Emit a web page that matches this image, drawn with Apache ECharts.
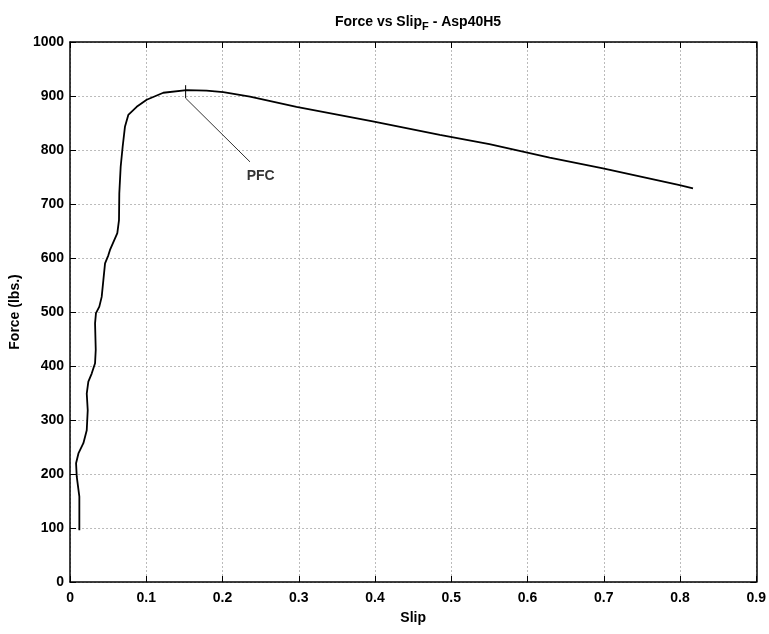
<!DOCTYPE html>
<html>
<head>
<meta charset="utf-8">
<script src="https://cdn.jsdelivr.net/npm/echarts@6/dist/echarts.min.js"></script>
<style>
html, body { margin: 0; padding: 0; background: #fff; }
#Chart { width: 769px; height: 634px; }
</style>
</head>
<body>
<div id="Chart"></div>
<script>
// slip (in) and force (lbs.)
var slip = [0.0122, 0.0122, 0.0088, 0.0079, 0.011, 0.0175, 0.0219, 0.0232, 0.0219, 0.024,
    0.0284, 0.0328, 0.0337, 0.0328, 0.034, 0.0384, 0.0415, 0.0437, 0.0459, 0.0502,
    0.0524, 0.062, 0.0642, 0.0646, 0.0664, 0.069, 0.072, 0.0764, 0.0874, 0.1005,
    0.1223, 0.153, 0.179, 0.201, 0.236, 0.297, 0.397, 0.485, 0.55, 0.629,
    0.699, 0.7995, 0.817];
var force = [96, 158, 195, 220, 238, 257, 281, 318, 349, 371,
    386, 405, 430, 479, 498, 510, 528, 559, 590, 605,
    615, 646, 670, 720, 769, 806, 843, 865, 880, 893,
    906, 911, 910, 907, 899, 880, 853, 828, 811, 786,
    766, 735, 729];

var xTicks = [0, 0.1, 0.2, 0.3, 0.4, 0.5, 0.6, 0.7, 0.8, 0.9];
var yTicks = [0, 100, 200, 300, 400, 500, 600, 700, 800, 900, 1000];

// PFC marker: short vertical tick at the peak and leader line to the label
var pfcTick = [[0.1516, 920], [0.1516, 896]];
var pfcLeader = [[0.1516, 896], [0.236, 778]];
var pfcLabel = [0.25, 752];

var font = '"Liberation Sans Narrow", "Arial Narrow", "Liberation Sans", Arial, sans-serif';

var curve = slip.map(function (s, i) { return [s, force[i]]; });

var Chart = echarts.init(document.getElementById('Chart'));

var axisBase = {
    type: 'value',
    axisLine: { show: true, onZero: false, lineStyle: { color: '#000', width: 1.5 } },
    axisTick: { show: true, inside: true, length: 6, lineStyle: { color: '#000', width: 1 } }
};

var ChartOption = {
    backgroundColor: '#fff',
    animation: false,
    title: {
        text: '{t|Force vs Slip}{s|F}{t| - Asp40H5}',
        left: 413,
        textAlign: 'center',
        top: 8,
        textStyle: {
            rich: {
                t: { fontFamily: font, fontWeight: 'bold', fontSize: 14, color: '#000' },
                s: { fontFamily: font, fontWeight: 'bold', fontSize: 11, color: '#000', padding: [8, 0, 0, 0] }
            }
        }
    },
    grid: { left: 70, right: 12, top: 42, bottom: 52 },
    xAxis: [
        Object.assign({}, axisBase, {
            min: 0, max: 0.9, interval: 0.1,
            position: 'bottom',
            name: 'Slip',
            nameLocation: 'middle',
            nameGap: 29,
            nameTextStyle: { fontFamily: font, fontWeight: 'bold', fontSize: 14, color: '#000' },
            axisLabel: {
                fontFamily: font, fontWeight: 'bold', fontSize: 14, color: '#000', margin: 9,
                formatter: function (v) { return xTicks.indexOf(+v.toFixed(1)) >= 0 ? String(+v.toFixed(1)) : ''; }
            },
            splitLine: { show: true, lineStyle: { color: '#bbb', type: [2, 2], width: 1 } }
        }),
        Object.assign({}, axisBase, {
            min: 0, max: 0.9, interval: 0.1,
            position: 'top',
            axisLabel: { show: false },
            splitLine: { show: false }
        })
    ],
    yAxis: [
        Object.assign({}, axisBase, {
            min: 0, max: 1000, interval: 100,
            position: 'left',
            name: 'Force (lbs.)',
            nameLocation: 'middle',
            nameGap: 44,
            nameTextStyle: { fontFamily: font, fontWeight: 'bold', fontSize: 14, color: '#000' },
            axisLabel: {
                fontFamily: font, fontWeight: 'bold', fontSize: 14, color: '#000', margin: 6,
                formatter: function (v) { return yTicks.indexOf(v) >= 0 ? String(v) : ''; }
            },
            splitLine: { show: true, lineStyle: { color: '#bbb', type: [2, 2], width: 1 } }
        }),
        Object.assign({}, axisBase, {
            min: 0, max: 1000, interval: 100,
            position: 'right',
            axisLabel: { show: false },
            splitLine: { show: false }
        })
    ],
    series: [
        {
            type: 'line',
            data: curve,
            showSymbol: false,
            lineStyle: { color: '#000', width: 1.8 },
            z: 5
        },
        {
            type: 'line',
            data: pfcTick,
            showSymbol: false,
            lineStyle: { color: '#000', width: 1 }
        },
        {
            type: 'line',
            data: pfcLeader,
            showSymbol: false,
            lineStyle: { color: '#333', width: 1 }
        },
        {
            type: 'scatter',
            data: [pfcLabel],
            symbolSize: 0,
            label: {
                show: true,
                position: 'inside',
                formatter: 'PFC',
                fontFamily: '"Liberation Sans", Arial, sans-serif',
                fontWeight: 'bold',
                fontSize: 14,
                color: '#000'
            }
        }
    ]
};

Chart.setOption(ChartOption);
window.addEventListener("resize", function () {
    Chart.resize();
});
</script>
</body>
</html>
